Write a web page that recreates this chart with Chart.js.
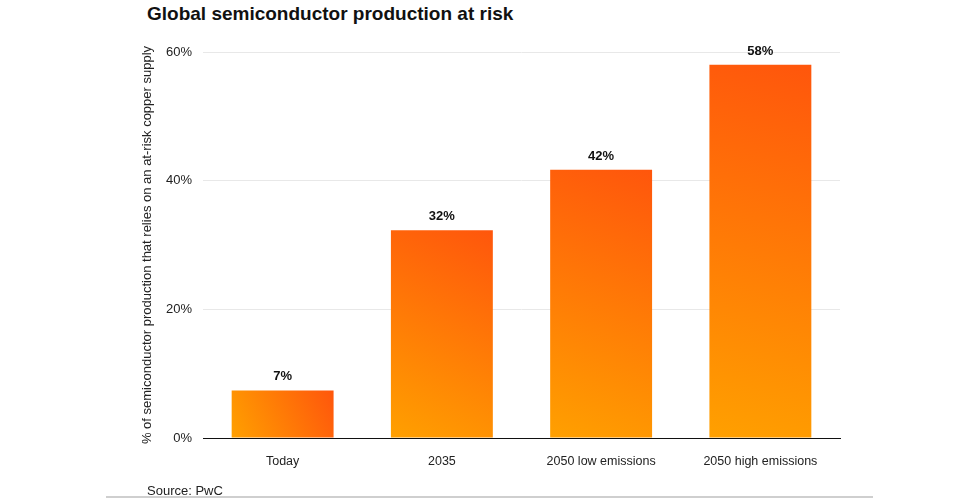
<!DOCTYPE html>
<html>
<head>
<meta charset="utf-8">
<script src="https://cdn.jsdelivr.net/npm/chart.js@4.4.1/dist/chart.umd.min.js"></script>
<style>
  html, body { margin: 0; padding: 0; background: #fff; }
  body { width: 970px; height: 500px; position: relative; overflow: hidden; font-family: "Liberation Sans", Arial, Helvetica, sans-serif; }
  #title { position: absolute; left: 147px; top: 3px; font-size: 19px; font-weight: bold; color: #111; white-space: nowrap; }
  #source { position: absolute; left: 147px; top: 483px; font-size: 13px; color: #222; }
  #rule { position: absolute; left: 106px; top: 496px; width: 767px; height: 2px; background: #cfcfcf; }
  #wrap { position: absolute; left: 0; top: 0; width: 970px; height: 500px; }
</style>
</head>
<body>
<div id="title">Global semiconductor production at risk</div>
<div id="wrap"><canvas id="c" width="970" height="500"></canvas></div>
<div id="source">Source: PwC</div>
<div id="rule"></div>
<script>
const categories = ['Today', '2035', '2050 low emissions', '2050 high emissions'];
const values = [7.4, 32.3, 41.7, 58.0];
const yTicks = [0, 20, 40, 60];
const yTitle = '% of semiconductor production that relies on an at-risk copper supply';

const FONT = '"Liberation Sans", Arial, Helvetica, sans-serif';

function barGradient(c) {
  const chart = c.chart;
  const xs = chart.scales.x, ys = chart.scales.y;
  if (!chart.chartArea || !xs || !ys) return '#ff8000';
  const cx = xs.getPixelForValue(c.dataIndex);
  const w = (xs.width / categories.length) * 0.64;
  const top = ys.getPixelForValue(c.raw);
  const base = ys.getPixelForValue(0);
  const g = chart.ctx.createLinearGradient(cx - w / 2, base, cx + w / 2, top);
  g.addColorStop(0, '#ffa000');
  g.addColorStop(1, '#ff560c');
  return g;
}

const labelPlugin = {
  id: 'valueLabels',
  afterDatasetsDraw(chart) {
    const ctx = chart.ctx;
    const meta = chart.getDatasetMeta(0);
    ctx.save();
    ctx.font = 'bold 13px ' + FONT;
    ctx.fillStyle = '#111';
    ctx.textAlign = 'center';
    ctx.textBaseline = 'bottom';
    meta.data.forEach((el, i) => {
      ctx.fillText(Math.round(values[i]) + '%', el.x, el.y - 7);
    });
    ctx.restore();
  }
};

new Chart(document.getElementById('c'), {
  type: 'bar',
  data: {
    labels: categories,
    datasets: [{
      data: values,
      backgroundColor: barGradient,
      borderWidth: 0,
      barPercentage: 0.8,
      categoryPercentage: 0.8
    }]
  },
  options: {
    responsive: false,
    animation: false,
    devicePixelRatio: 1,
    layout: { padding: { left: 140, right: 130, top: 52, bottom: 0 } },
    plugins: { legend: { display: false }, tooltip: { enabled: false }, title: { display: false } },
    scales: {
      x: {
        grid: { display: false },
        border: { display: true, color: '#111', width: 1 },
        ticks: { color: '#222', font: { family: FONT, size: 12.5 }, padding: 8, maxRotation: 0 },
        afterFit(s) { s.height = 62; }
      },
      y: {
        min: 0, max: 60,
        afterBuildTicks(s) { s.ticks = yTicks.map(v => ({ value: v })); },
        grid: { color: '#e8e8e8', drawTicks: false, lineWidth: 1 },
        border: { display: false },
        ticks: { color: '#222', font: { family: FONT, size: 13 }, padding: 11, callback: v => v + '%' },
        title: { display: true, text: yTitle, color: '#222', font: { family: FONT, size: 13 }, padding: { top: 0, bottom: 0 } },
        afterFit(s) { s.width = 63; }
      }
    }
  },
  plugins: [labelPlugin]
});
</script>
</body>
</html>
